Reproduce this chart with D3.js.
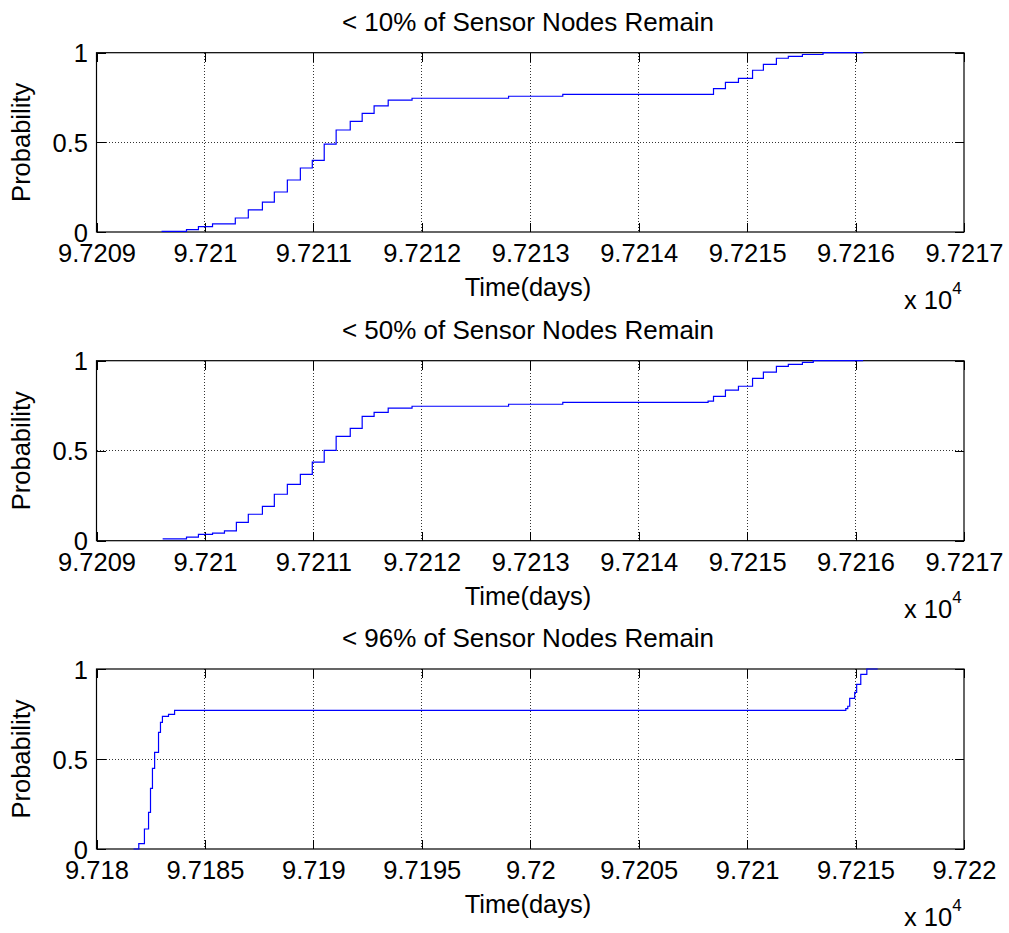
<!DOCTYPE html>
<html>
<head>
<meta charset="utf-8">
<script src="https://cdn.jsdelivr.net/npm/d3@7"></script>
<style>
  html, body { margin: 0; padding: 0; background: #fff; }
  svg { display: block; font-family: "Liberation Sans", Arial, sans-serif; }
</style>
</head>
<body>
<svg id="chart" width="1009" height="933"></svg>
<script>
// ---------------- DATA ----------------
const titles = ["< 10% of Sensor Nodes Remain", "< 50% of Sensor Nodes Remain", "< 96% of Sensor Nodes Remain"];

const xTicksTop = [97209, 97210, 97211, 97212, 97213, 97214, 97215, 97216, 97217];
const xTickLabelsTop = ["9.7209", "9.721", "9.7211", "9.7212", "9.7213", "9.7214", "9.7215", "9.7216", "9.7217"];
const xTicksBottom = [97180, 97185, 97190, 97195, 97200, 97205, 97210, 97215, 97220];
const xTickLabelsBottom = ["9.718", "9.7185", "9.719", "9.7195", "9.72", "9.7205", "9.721", "9.7215", "9.722"];
const yTicks = [0, 0.5, 1];
const yTickLabels = ["0", "0.5", "1"];

// Empirical CDF steps: time (days) and probability after each step
const time10 = [97209.60, 97209.83, 97209.94, 97210.07, 97210.28, 97210.40, 97210.53, 97210.64, 97210.76, 97210.88,
                97210.99, 97211.10, 97211.21, 97211.34, 97211.45, 97211.56, 97211.69, 97211.91, 97212.80, 97213.30,
                97214.69, 97214.80, 97214.92, 97215.05, 97215.15, 97215.27, 97215.38, 97215.51, 97215.70, 97216.07];
const prob10 = [0.003, 0.013, 0.030, 0.045, 0.078, 0.123, 0.167, 0.223, 0.290, 0.357,
                0.400, 0.490, 0.569, 0.617, 0.662, 0.703, 0.736, 0.746, 0.757, 0.768,
                0.800, 0.835, 0.857, 0.902, 0.935, 0.969, 0.980, 0.990, 1.000, 1.000];

const time50 = [97209.61, 97209.83, 97209.94, 97210.07, 97210.18, 97210.29, 97210.40, 97210.53, 97210.64, 97210.76,
                97210.88, 97210.99, 97211.10, 97211.21, 97211.34, 97211.45, 97211.56, 97211.69, 97211.91, 97212.80,
                97213.30, 97214.64, 97214.69, 97214.80, 97214.92, 97215.05, 97215.15, 97215.27, 97215.38, 97215.51,
                97215.61, 97216.07];
const prob50 = [0.010, 0.020, 0.035, 0.042, 0.055, 0.102, 0.147, 0.191, 0.258, 0.313,
                0.369, 0.436, 0.502, 0.580, 0.624, 0.691, 0.713, 0.736, 0.747, 0.758,
                0.769, 0.775, 0.802, 0.836, 0.858, 0.902, 0.936, 0.969, 0.980, 0.991,
                1.000, 1.000];

const time96 = [97181.71, 97181.95, 97182.21, 97182.40, 97182.49, 97182.58, 97182.68, 97182.86, 97182.95, 97183.04,
                97183.32, 97183.60, 97214.55, 97214.64, 97214.73, 97214.96, 97215.05, 97215.24, 97215.52, 97216.02];
const prob96 = [0.000, 0.030, 0.111, 0.204, 0.337, 0.448, 0.537, 0.648, 0.704, 0.737,
                0.748, 0.770, 0.780, 0.793, 0.837, 0.870, 0.915, 0.970, 1.000, 1.000];

// ---------------- LAYOUT ----------------
const svg = d3.select("#chart");
const left = 96.5, right = 964;
const panels = [
  { top: 52.7, bottom: 232, title: titles[0], times: time10, probs: prob10, domain: [97209, 97217], ticks: xTicksTop, labels: xTickLabelsTop },
  { top: 360.7, bottom: 540.7, title: titles[1], times: time50, probs: prob50, domain: [97209, 97217], ticks: xTicksTop, labels: xTickLabelsTop },
  { top: 669, bottom: 849, title: titles[2], times: time96, probs: prob96, domain: [97180, 97220], ticks: xTicksBottom, labels: xTickLabelsBottom }
];

const tickLen = 9;
const tickFont = 25.5;

panels.forEach(p => {
  const x = d3.scaleLinear().domain(p.domain).range([left, right]);
  const y = d3.scaleLinear().domain([0, 1]).range([p.bottom, p.top]);
  const g = svg.append("g");

  // grid
  g.append("g").selectAll("line").data(p.ticks.slice(1, -1)).join("line")
    .attr("x1", d => x(d)).attr("x2", d => x(d)).attr("y1", p.top).attr("y2", p.bottom)
    .attr("stroke", "#333").attr("stroke-width", 1).attr("stroke-dasharray", "1,2").attr("shape-rendering", "crispEdges");
  g.append("g").selectAll("line").data([0.5]).join("line")
    .attr("x1", left).attr("x2", right).attr("y1", d => y(d)).attr("y2", d => y(d))
    .attr("stroke", "#333").attr("stroke-width", 1).attr("stroke-dasharray", "1,2").attr("shape-rendering", "crispEdges");

  // axes with inward ticks
  const xb = d3.axisBottom(x).tickValues(p.ticks).tickSize(-tickLen).tickPadding(12)
    .tickFormat((d, i) => p.labels[i]);
  const xt = d3.axisTop(x).tickValues(p.ticks).tickSize(-tickLen).tickFormat("");
  const yl = d3.axisLeft(y).tickValues(yTicks).tickSize(-tickLen).tickPadding(8.5)
    .tickFormat((d, i) => yTickLabels[i]);
  const yr = d3.axisRight(y).tickValues(yTicks).tickSize(-tickLen).tickFormat("");

  const styleAxis = sel => {
    sel.select(".domain").remove();
    sel.selectAll(".tick line").attr("stroke", "#000").attr("shape-rendering", "crispEdges");
    sel.selectAll(".tick text").attr("font-size", tickFont).attr("fill", "#000")
      .attr("font-family", "'Liberation Sans', Arial, sans-serif");
  };
  g.append("g").attr("transform", `translate(0,${p.bottom})`).call(xb).call(styleAxis);
  g.append("g").attr("transform", `translate(0,${p.top})`).call(xt).call(styleAxis);
  g.append("g").attr("transform", `translate(${left},0)`).call(yl).call(styleAxis)
    .selectAll(".tick text").attr("dy", "0.36em");
  g.append("g").attr("transform", `translate(${right},0)`).call(yr).call(styleAxis);

  // box
  g.append("rect").attr("x", left).attr("y", p.top).attr("width", right - left).attr("height", p.bottom - p.top)
    .attr("fill", "none").attr("stroke", "#000").attr("stroke-width", 1.2);

  // CDF line
  const pts = p.times.map((t, i) => [t, p.probs[i]]);
  const line = d3.line().x(d => x(d[0])).y(d => y(d[1])).curve(d3.curveStepAfter);
  g.append("path").datum(pts).attr("d", line).attr("fill", "none").attr("stroke", "#0000ff").attr("stroke-width", 1.2);

  // title
  g.append("text").attr("x", 528).attr("y", p.top - 22).attr("text-anchor", "middle")
    .attr("font-size", 26).attr("fill", "#000").text(p.title);

  // y label
  g.append("text").attr("transform", `translate(30,${(p.top + p.bottom) / 2}) rotate(-90)`)
    .attr("text-anchor", "middle").attr("font-size", 25.5).attr("fill", "#000").text("Probability");

  // x label
  g.append("text").attr("x", 528).attr("y", p.bottom + 64).attr("text-anchor", "middle")
    .attr("font-size", 25.5).attr("fill", "#000").text("Time(days)");

  // exponent
  const ex = g.append("text").attr("x", 904).attr("y", p.bottom + 77).attr("font-size", 25.5).attr("fill", "#000");
  ex.append("tspan").text("x 10");
  ex.append("tspan").attr("font-size", 17).attr("dy", -15).text("4");
});
</script>
</body>
</html>
